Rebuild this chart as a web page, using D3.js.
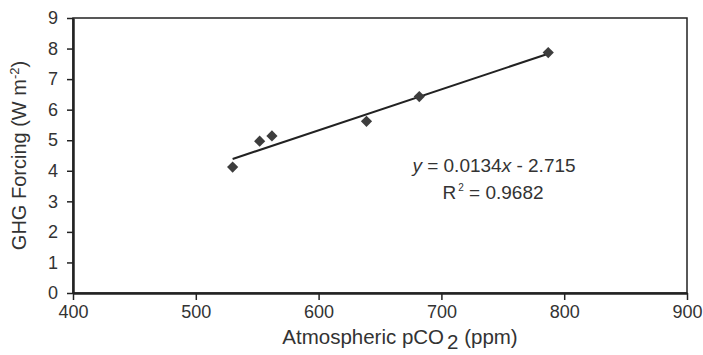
<!DOCTYPE html>
<html>
<head>
<meta charset="utf-8">
<script src="https://cdn.jsdelivr.net/npm/d3@7"></script>
<style>
  body { margin: 0; background: #fff; }
  svg { font-family: "Liberation Sans", Arial, sans-serif; }
</style>
</head>
<body>
<svg id="chart" width="703" height="355"></svg>
<script>
// data
const co2 = [530, 552, 562, 639, 682, 787];
const forcing = [4.12, 4.97, 5.14, 5.62, 6.43, 7.87];
const xTicks = [400, 500, 600, 700, 800, 900];
const yTicks = [0, 1, 2, 3, 4, 5, 6, 7, 8, 9];
const slope = 0.0134, intercept = -2.715, r2 = "0.9682";

const margin = {top: 18, right: 16, bottom: 62, left: 73};
const width = 703, height = 355;

const svg = d3.select("#chart");

const x = d3.scaleLinear().domain([400, 900]).range([margin.left, width - margin.right]);
const y = d3.scaleLinear().domain([0, 9]).range([height - margin.bottom, margin.top]);

const ink = "#222";
const textCol = "#333";

// frame
svg.append("rect")
    .attr("x", x(400)).attr("y", y(9))
    .attr("width", x(900) - x(400)).attr("height", y(0) - y(9))
    .attr("fill", "none").attr("stroke", ink).attr("stroke-width", 1.5);

const xAxis = svg.append("g")
    .attr("transform", `translate(0,${y(0)})`)
    .call(d3.axisBottom(x).tickValues(xTicks).tickSize(7).tickPadding(5).tickSizeOuter(0));
const yAxis = svg.append("g")
    .attr("transform", `translate(${x(400)},0)`)
    .call(d3.axisLeft(y).tickValues(yTicks).tickSize(6).tickPadding(9).tickSizeOuter(0));

[xAxis, yAxis].forEach(g => {
    g.select(".domain").attr("stroke", ink).attr("stroke-width", 2.5);
    g.selectAll("line").attr("stroke", ink).attr("stroke-width", 1.5);
    g.selectAll("text").attr("fill", textCol).style("font-size", "18px")
        .style("font-family", "Liberation Sans, Arial, sans-serif");
});

// trend line
const x0 = d3.min(co2), x1 = d3.max(co2);
svg.append("line")
    .attr("x1", x(x0)).attr("y1", y(slope * x0 + intercept))
    .attr("x2", x(x1)).attr("y2", y(slope * x1 + intercept))
    .attr("stroke", ink).attr("stroke-width", 2);

// markers
svg.append("g")
    .selectAll("path")
    .data(co2.map((c, i) => ({c, f: forcing[i]})))
    .enter().append("path")
        .attr("transform", d => `translate(${x(d.c)},${y(d.f)})`)
        .attr("d", d3.symbol().type(d3.symbolDiamond2).size(80))
        .attr("fill", "#3d3d3d");

// equation
const eq = svg.append("text")
    .attr("x", 494).attr("y", 172)
    .attr("text-anchor", "middle")
    .attr("fill", textCol).style("font-size", "19px");
eq.append("tspan").attr("font-style", "italic").text("y");
eq.append("tspan").text(" = 0.0134");
eq.append("tspan").attr("font-style", "italic").text("x");
eq.append("tspan").text(" - 2.715");

const rt = svg.append("text")
    .attr("x", 493).attr("y", 199)
    .attr("text-anchor", "middle")
    .attr("fill", textCol).style("font-size", "19px");
rt.append("tspan").text("R");
rt.append("tspan").attr("dy", -8).attr("dx", 2).style("font-size", "10px").text("2");
rt.append("tspan").attr("dy", 8).text(" = " + r2);

// axis titles
const xt = svg.append("text")
    .attr("x", 400).attr("y", 344)
    .attr("text-anchor", "middle")
    .attr("fill", textCol).style("font-size", "20.5px");
xt.append("tspan").text("Atmospheric pCO");
xt.append("tspan").attr("dy", 5).attr("dx", 3).text("2");
xt.append("tspan").attr("dy", -5).text(" (ppm)");

const yt = svg.append("text")
    .attr("transform", `translate(26,${(y(0) + y(9)) / 2}) rotate(-90)`)
    .attr("text-anchor", "middle")
    .attr("fill", textCol).style("font-size", "20px");
yt.append("tspan").text("GHG Forcing (W m");
yt.append("tspan").attr("dy", -7).style("font-size", "13px").text("-2");
yt.append("tspan").attr("dy", 7).text(")");
</script>
</body>
</html>
